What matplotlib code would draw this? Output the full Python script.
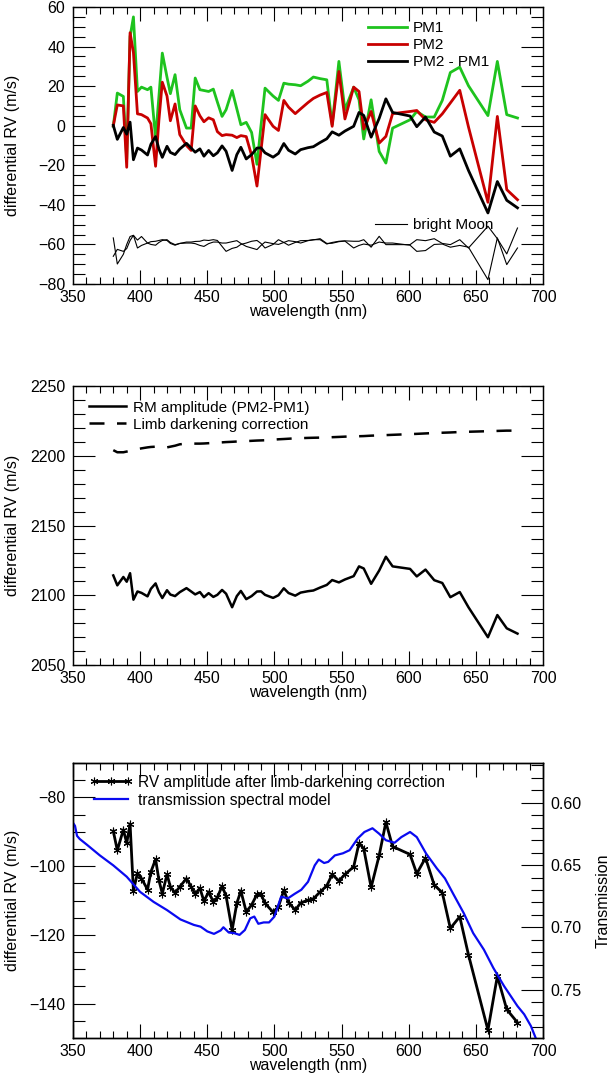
import matplotlib
matplotlib.use('Agg')
import matplotlib.pyplot as plt
from matplotlib.lines import Line2D
from matplotlib.ticker import MultipleLocator, FormatStrFormatter

# ---------------- data ----------------
wl = [380, 383, 387.5, 390, 392.5, 395, 398, 401, 405.5, 408,
      411.5, 414, 416.5, 420, 422.5, 426, 429.5, 434.5, 438, 441,
      444.5, 447.5, 451, 454.5, 457.5, 461, 464, 468.5, 472, 475,
      479, 483, 487, 490, 493, 499, 503, 507, 510.5, 515.5,
      519.5, 525, 529, 534, 539, 543, 548, 552.5, 559, 563,
      566.5, 572, 578, 583, 588, 601, 606, 612.5, 619, 625,
      631, 638, 644.5, 659, 666, 673, 681]

pm1 = [-0.3, 16.5, 14.8, -17, 45, 55, 17.3, 19.5, 18.2, 19.5,
       -6.2, 15, 36.7, 24.5, 16.2, 25.8, 8.1, -1.2, -1.2, 24.1,
       18.2, 17.8, 17.3, 18.5, 12, 4.7, 8.1, 17.8, 8.5, 0.5,
       1.7, -3.4, -19.5, 0, 19, 15, 12.8, 21.5, 21, 20.7,
       20.2, 22.5, 24.6, 23.8, 23.2, 0.5, 32.5, 8.1, 19.5, 13.1,
       -6.7, 13.1, -13, -18.9, -1.2, 3, 7.2, 4.4, 4.4, 12.8,
       26.9, 29.6, 20.2, 5.1, 32.5, 5.6, 3.9]

pm2 = [0, 10.5, 10, -21, 47, 37, 6, 5.6, 3.9, 1,
       -20.5, 3, 22, 15, 2.5, 11, -4.5, -10, -12.5, 10,
       5, 2, 4, 3, -3, -5, -4.5, -4.8, -6, -5,
       -5.5, -15, -30.5, -12.5, 5.6, -0.3, -2.4, 12.8, 9.4, 6.1,
       8.5, 11.7, 13.8, 15.5, 16.8, -0.3, 27.4, 3.4, 19.5, 17.3,
       -1.7, 7.2, -8.8, -5.4, 6.1, 7.2, 7.7, 3.0, 1.7, 6,
       11.5, 17.9, -0.6, -38.7, 4.7, -32.3, -37.4]

pm_diff = [0.2, -6.9, -0.9, -4.3, 1.8, -17.2, -11.3, -12.3, -14.8, -9.4,
           -5.5, -11.8, -16.0, -10.4, -13.5, -14.6, -11.8, -8.9, -11.3, -13.4,
           -11.7, -15.4, -12.5, -15.2, -13.7, -10.2, -12.9, -22.6, -14.6, -10.9,
           -16.8, -14.6, -11.3, -11.2, -13.7, -15.9, -14.0, -9.0, -12.4, -14.3,
           -12.1, -11.1, -10.6, -8.5, -6.6, -3.1, -4.8, -2.7, -0.3, 6.7,
           5.2, -5.8, 3.7, 13.6, 6.7, 4.9, -0.5, 4.4, -3.2, -5.2,
           -15.4, -11.7, -22.6, -44.1, -28.2, -37.7, -41.5]

moon_a = [-56.7, -69.9, -65, -60, -56, -55.4, -57.8, -56, -59.3, -60,
          -60.4, -59, -58, -57.6, -59, -60.1, -59.5, -58.8, -58.8, -58.5,
          -58.4, -57.8, -58, -57.6, -58, -61, -63.5, -62, -61.4, -60,
          -59.3, -58.4, -58, -59.5, -61.8, -60, -57.6, -59, -60.4, -59,
          -58.1, -58, -57.6, -57.6, -59.8, -59, -58.4, -58.2, -58.4, -58.4,
          -57.6, -61.4, -55.9, -60.1, -60.1, -60.1, -57.6, -58.1, -57.1, -59.5,
          -60.1, -57.6, -61.8, -50.8, -57.1, -64.8, -51.7]

moon_b = [-66, -62.5, -63.5, -62.1, -58, -55.4, -61.8, -60.5, -59.3, -58.6,
          -58.4, -58, -57.6, -58, -59.5, -60.4, -59.5, -59.3, -59.3, -59.6,
          -60.5, -61, -59.6, -58.8, -58.8, -59.3, -59.3, -58.6, -58.1, -59.5,
          -61, -61.8, -62.6, -60.5, -58.8, -59.6, -60, -59, -58.1, -58.6,
          -59.3, -58.1, -57.7, -57.1, -59.5, -59.4, -58.6, -58.3, -61.8, -60.5,
          -59.8, -60.4, -58.8, -59.3, -59.3, -60.4, -63.5, -63.1, -60, -59.8,
          -61.4, -60.5, -61.4, -77.8, -56.7, -70.2, -61.8]

rm_amp = [2114.2, 2107.1, 2113.1, 2109.7, 2115.8, 2096.8, 2102.7, 2101.7, 2099.2, 2104.6,
          2108.5, 2102.2, 2098.0, 2103.6, 2100.5, 2099.4, 2102.2, 2105.1, 2102.7, 2100.6,
          2102.3, 2098.6, 2101.5, 2098.8, 2100.3, 2103.8, 2101.1, 2091.4, 2099.4, 2103.1,
          2097.2, 2099.4, 2102.7, 2102.8, 2100.3, 2098.1, 2100.0, 2105.0, 2101.6, 2099.7,
          2101.9, 2102.9, 2103.4, 2105.5, 2107.4, 2110.9, 2109.2, 2111.3, 2113.7, 2120.7,
          2119.2, 2108.2, 2117.7, 2127.6, 2120.7, 2118.9, 2113.5, 2118.4, 2110.8, 2108.8,
          2098.6, 2102.3, 2091.4, 2069.9, 2085.8, 2076.3, 2072.5]

ld_corr = [2204, 2202.5, 2202.5, 2203, 2203.5, 2204, 2204.7, 2205.3, 2206, 2206.3,
           2206.5, 2206.3, 2206, 2206, 2206.5, 2207.2, 2208.2, 2208.7, 2208.7, 2208.7,
           2208.7, 2208.8, 2209, 2209.2, 2209.4, 2209.6, 2209.8, 2210, 2210.2, 2210.3,
           2210.5, 2210.7, 2210.9, 2211, 2211.1, 2211.5, 2211.8, 2212, 2212.2, 2212.5,
           2212.6, 2212.8, 2212.9, 2213, 2213.1, 2213.3, 2213.5, 2213.7, 2213.9, 2214,
           2214.1, 2214.4, 2214.6, 2214.8, 2215, 2215.5, 2215.7, 2216, 2216.3, 2216.5,
           2216.7, 2217, 2217.2, 2217.6, 2217.8, 2218, 2218]

rv_corr = [-89.8, -95.4, -89.4, -93.3, -87.7, -107.2, -102.0, -103.6, -106.8, -101.7,
           -98.0, -104.1, -108.0, -102.4, -106.0, -107.8, -106.0, -103.6, -106.0, -108.1,
           -106.4, -110.2, -107.5, -110.4, -109.1, -105.8, -108.7, -118.6, -110.8, -107.2,
           -113.3, -111.3, -108.2, -108.2, -110.8, -113.4, -111.8, -107.0, -110.6, -112.8,
           -110.7, -109.9, -109.5, -107.5, -105.7, -102.4, -104.3, -102.4, -100.2, -93.3,
           -94.9, -106.2, -96.9, -87.2, -94.3, -96.6, -102.2, -97.6, -105.5, -107.7,
           -118.1, -114.7, -125.8, -147.7, -132.0, -141.7, -145.5]

tm_wl = [350, 351.5, 353, 355, 360, 370, 380, 390, 400, 410,
         420, 430, 440, 445, 450, 455, 460, 462, 466, 470,
         474, 478, 482, 485, 488, 492, 496, 500, 505, 510,
         515, 520, 525, 530, 533, 537, 540, 545, 551, 556,
         562, 567, 573, 578, 583, 589.5, 594.5, 601, 606, 613,
         621, 627, 633, 641, 648, 656, 663, 671, 681, 686,
         691, 695]

tm_trans = [0.6160, 0.6185, 0.6265, 0.6290, 0.6333, 0.6422, 0.6502, 0.6593, 0.6715, 0.6795,
            0.6861, 0.6936, 0.6980, 0.6994, 0.7032, 0.7052, 0.7024, 0.6999, 0.7041, 0.7046,
            0.7060, 0.7021, 0.6927, 0.6913, 0.6971, 0.6960, 0.6960, 0.6913, 0.6753, 0.6767,
            0.6731, 0.6698, 0.6634, 0.6502, 0.6455, 0.6483, 0.6474, 0.6422, 0.6405, 0.6380,
            0.6286, 0.6234, 0.6204, 0.6248, 0.6300, 0.6320, 0.6275, 0.6234, 0.6275, 0.6408,
            0.6527, 0.6607, 0.6728, 0.6886, 0.7046, 0.7179, 0.7325, 0.7471, 0.7632, 0.7698,
            0.7792, 0.7900]

# ---------------- style ----------------
plt.rcParams['font.family'] = ['Liberation Sans', 'DejaVu Sans']
plt.rcParams['font.size'] = 11.5
GREEN = '#1ec31e'
RED = '#c80000'
BLUE = '#0a0af0'

W, H = 612, 1078
fig = plt.figure(figsize=(W / 100, H / 100), dpi=100)


def add_ax(top, bottom, left=73, right=543):
    return fig.add_axes([left / W, 1 - bottom / H, (right - left) / W, (bottom - top) / H])


def style(ax, ymaj, ymin, right=True):
    ax.set_xlim(350, 700)
    ax.xaxis.set_major_locator(MultipleLocator(50))
    ax.xaxis.set_minor_locator(MultipleLocator(10))
    ax.yaxis.set_major_locator(MultipleLocator(ymaj))
    ax.yaxis.set_minor_locator(MultipleLocator(ymin))
    ax.tick_params(axis='x', which='major', direction='in', length=10, width=0.8,
                   top=True, pad=4, labelsize=11.5)
    ax.tick_params(axis='x', which='minor', direction='in', length=5, width=0.8, top=True)
    ax.tick_params(axis='y', which='major', direction='in', length=16, width=0.8,
                   right=right, pad=5.5, labelsize=11.5)
    ax.tick_params(axis='y', which='minor', direction='in', length=8.4, width=0.8, right=right)
    for s in ax.spines.values():
        s.set_linewidth(1.0)
    ax.set_xlabel('wavelength (nm)', fontsize=11.5)
    ax.xaxis.set_label_coords(0.5, -0.072)
    ax.set_ylabel('differential RV (m/s)', fontsize=11.5)
    ax.yaxis.set_label_coords(-0.112, 0.5)


# ---------------- top panel ----------------
ax1 = add_ax(7, 284)
l1, = ax1.plot(wl, pm1, color=GREEN, lw=2.0)
l2, = ax1.plot(wl, pm2, color=RED, lw=2.0)
l3, = ax1.plot(wl, pm_diff, color='black', lw=2.0)
ax1.plot(wl, moon_a, color='black', lw=0.8)
ax1.plot(wl, moon_b, color='black', lw=0.8)
ax1.set_ylim(-80, 60)
style(ax1, 20, 5)
leg1 = ax1.legend([l1, l2, l3], ['PM1', 'PM2', 'PM2 - PM1'], loc='upper left',
                  bbox_to_anchor=(0.628, 0.95), frameon=False, fontsize=11,
                  handlelength=2.55, handletextpad=0.4, borderpad=0, borderaxespad=0,
                  labelspacing=0.2)
ax1.add_artist(leg1)
moon_handle = Line2D([], [], color='black', lw=0.8)
ax1.legend([moon_handle], ['bright Moon'], loc='center left',
           bbox_to_anchor=(0.642, 0.212), frameon=False, fontsize=11,
           handlelength=2.1, handletextpad=0.4, borderpad=0, borderaxespad=0)

# ---------------- middle panel ----------------
ax2 = add_ax(386, 665)
h1, = ax2.plot(wl, rm_amp, color='black', lw=1.8)
h2, = ax2.plot(wl, ld_corr, color='black', lw=1.8, dashes=(6, 5))
ax2.set_ylim(2050, 2250)
style(ax2, 50, 10)
ax2.legend([h1, h2], ['RM amplitude (PM2-PM1)', 'Limb darkening correction'],
           loc='upper left', bbox_to_anchor=(0.035, 0.947), frameon=False, fontsize=11,
           handlelength=2.4, handletextpad=0.45, borderpad=0, borderaxespad=0,
           labelspacing=0.2)

# ---------------- bottom panel ----------------
ax3 = add_ax(763, 1038)
k1, = ax3.plot(wl, rv_corr, color='black', lw=2.0, marker=(6, 2, 0), ms=5.5, mew=0.8)
ax3.set_ylim(-150, -70)
style(ax3, 20, 5, right=False)
ax3b = ax3.twinx()
b1, = ax3b.plot(tm_wl, tm_trans, color=BLUE, lw=1.6)
ax3b.set_ylim(0.7888, 0.568)
ax3b.yaxis.set_major_locator(MultipleLocator(0.05))
ax3b.yaxis.set_minor_locator(MultipleLocator(0.01))
ax3b.yaxis.set_major_formatter(FormatStrFormatter('%.2f'))
ax3b.tick_params(axis='y', which='major', direction='in', length=16, width=0.8,
                 pad=5.5, labelsize=11.5)
ax3b.tick_params(axis='y', which='minor', direction='in', length=8.4, width=0.8)
for s in ax3b.spines.values():
    s.set_linewidth(1.0)
ax3b.set_ylabel('Transmission', fontsize=11.5)
ax3b.yaxis.set_label_coords(1.113, 0.5)
ax3b.legend([k1, b1], ['RV amplitude after limb-darkening correction',
                       'transmission spectral model'],
            loc='upper left', bbox_to_anchor=(0.035, 0.957), frameon=False, fontsize=11.2,
            handlelength=2.8, handletextpad=0.3, borderpad=0, borderaxespad=0,
            labelspacing=0.18, numpoints=3)

fig.savefig('out.png', dpi=100)
